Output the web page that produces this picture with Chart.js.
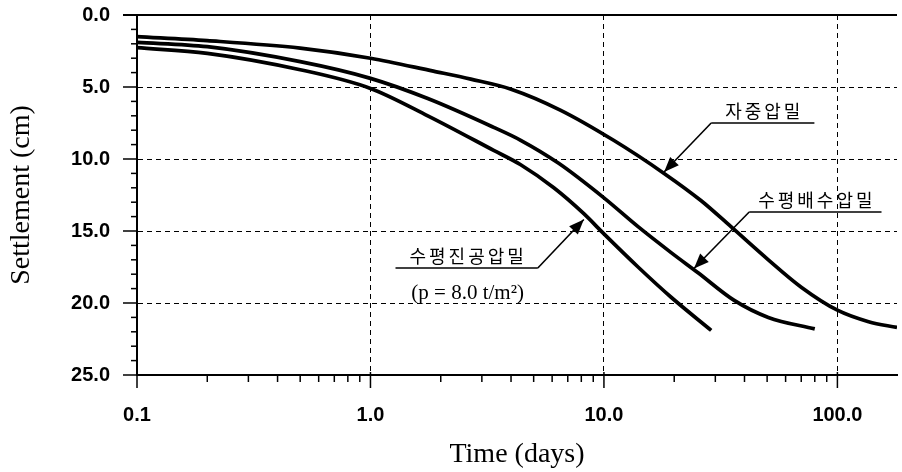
<!DOCTYPE html>
<html>
<head>
<meta charset="utf-8">
<script src="https://cdn.jsdelivr.net/npm/chart.js@4/dist/chart.umd.min.js"></script>
<style>
  html, body { margin: 0; padding: 0; background: #fff; }
  #wrap { width: 902px; height: 472px; }
</style>
</head>
<body>
<div id="wrap"><canvas id="settleChart" width="902" height="472"></canvas></div>
<script>
// axis ticks
const timeTicks = [0.1, 1, 10, 100];
const settleTicks = [0, 5, 10, 15, 20, 25];
const timeMax = 180;

// 자중압밀 (self-weight)
const timeSelf = [0.1, 0.2, 0.5, 1, 1.86, 2.69, 4.0, 6.5, 11, 18.1, 26.1, 35, 50.6, 70, 100, 136, 180];
const settleSelf = [1.5, 1.78, 2.3, 3.0, 3.9, 4.45, 5.15, 6.6, 8.7, 11.0, 12.9, 14.7, 17.0, 18.9, 20.5, 21.3, 21.7];

// 수평배수압밀 (horizontal drain)
const timeDrain = [0.1, 0.2, 0.5, 1, 1.76, 3.37, 4.4, 6.4, 10, 14, 19.4, 25.3, 36, 50.6, 80];
const settleDrain = [1.9, 2.2, 3.24, 4.4, 5.8, 7.8, 8.7, 10.3, 12.7, 14.7, 16.5, 17.9, 19.8, 21.0, 21.8];

// 수평진공압밀 (horizontal vacuum)
const timeVac = [0.1, 0.2, 0.5, 1, 1.76, 3.37, 4.4, 6.1, 8.2, 10, 14, 19.4, 28.8];
const settleVac = [2.27, 2.66, 3.8, 5.1, 7.0, 9.4, 10.4, 12.0, 13.8, 15.2, 17.5, 19.6, 21.9];

// callouts, anchored in axis units (days, cm)
const notes = [
  { text: '자중압밀', sub: '', t0: 28.8, t1: 79.7, s: 7.5, tipT: 18.1, tipS: 10.9, fromEnd: false },
  { text: '수평배수압밀', sub: '', t0: 41.9, t1: 154.5, s: 13.68, tipT: 24.3, tipS: 17.6, fromEnd: false },
  { text: '수평진공압밀', sub: '(p = 8.0 t/m²)', t0: 1.28, t1: 5.21, s: 17.57, tipT: 8.2, tipS: 14.2, fromEnd: true }
];

const tickFont = { family: "'Liberation Sans', Arial, sans-serif", size: 20, weight: 'bold' };
const titleFont = { family: "'Liberation Serif', 'DejaVu Serif', serif", size: 28, weight: 'normal' };

function toPoints(ts, ss) {
  return ts.map((t, i) => ({ x: t, y: ss[i] }));
}

function curve(label, ts, ss) {
  return {
    label: label,
    data: toPoints(ts, ss),
    borderColor: '#000',
    borderWidth: 3.7,
    pointRadius: 0,
    fill: false,
    cubicInterpolationMode: 'monotone'
  };
}

function isDecade(v) {
  const l = Math.log10(v);
  return Math.abs(l - Math.round(l)) < 1e-6;
}

function noPad(scale) {
  scale.paddingTop = 0;
  scale.paddingBottom = 0;
  scale.paddingLeft = 0;
  scale.paddingRight = 0;
}

function arrow(ctx, x0, y0, x1, y1) {
  ctx.beginPath();
  ctx.moveTo(x0, y0);
  ctx.lineTo(x1, y1);
  ctx.stroke();
  const ang = Math.atan2(y1 - y0, x1 - x0);
  const len = 15, half = 6;
  ctx.beginPath();
  ctx.moveTo(x1, y1);
  ctx.lineTo(x1 - len * Math.cos(ang) + half * Math.sin(ang), y1 - len * Math.sin(ang) - half * Math.cos(ang));
  ctx.lineTo(x1 - len * Math.cos(ang) - half * Math.sin(ang), y1 - len * Math.sin(ang) + half * Math.cos(ang));
  ctx.closePath();
  ctx.fill();
}

const decor = {
  id: 'decor',
  afterDraw(chart) {
    const { ctx, chartArea: a, scales: { x, y } } = chart;
    ctx.save();
    ctx.strokeStyle = '#000';
    ctx.fillStyle = '#000';

    // top frame line
    ctx.lineWidth = 2;
    const yTop = y.getPixelForValue(settleTicks[0]);
    ctx.beginPath();
    ctx.moveTo(a.left - 14, yTop);
    ctx.lineTo(a.right, yTop);
    ctx.stroke();

    // tick marks
    ctx.lineWidth = 1.5;
    y.ticks.forEach(t => {
      const py = y.getPixelForValue(t.value);
      const len = settleTicks.includes(t.value) ? 14 : 6;
      ctx.beginPath();
      ctx.moveTo(a.left - len, py);
      ctx.lineTo(a.left, py);
      ctx.stroke();
    });
    x.ticks.forEach(t => {
      const px = x.getPixelForValue(t.value);
      ctx.beginPath();
      if (t.isMajor) {
        ctx.moveTo(px, a.bottom - 3);
        ctx.lineTo(px, a.bottom + 13);
      } else {
        ctx.moveTo(px, a.bottom);
        ctx.lineTo(px, a.bottom + 7);
      }
      ctx.stroke();
    });

    // callouts
    notes.forEach(n => {
      const xa = x.getPixelForValue(n.t0);
      const xb = x.getPixelForValue(n.t1);
      const yl = y.getPixelForValue(n.s);
      const xt = x.getPixelForValue(n.tipT);
      const yt = y.getPixelForValue(n.tipS);
      ctx.lineWidth = 1.6;
      ctx.beginPath();
      ctx.moveTo(xa, yl);
      ctx.lineTo(xb, yl);
      ctx.stroke();
      if (n.fromEnd) arrow(ctx, xb, yl, xt, yt);
      else arrow(ctx, xa, yl, xt, yt);

      ctx.textAlign = 'center';
      ctx.textBaseline = 'middle';
      ctx.font = "18px 'Noto Sans CJK KR'";
      ctx.letterSpacing = '3px';
      ctx.fillText(n.text, (xa + xb) / 2 + 1.5, yl - 12);
      ctx.letterSpacing = '0px';
      if (n.sub) {
        ctx.font = "21px 'Liberation Serif'";
        ctx.fillText(n.sub, (xa + xb) / 2 + 1, yl + 25);
      }
    });
    ctx.restore();
  }
};

new Chart(document.getElementById('settleChart'), {
  type: 'line',
  data: {
    datasets: [
      curve('자중압밀', timeSelf, settleSelf),
      curve('수평배수압밀', timeDrain, settleDrain),
      curve('수평진공압밀', timeVac, settleVac)
    ]
  },
  options: {
    responsive: false,
    animation: false,
    devicePixelRatio: 1,
    layout: { padding: { top: 15, right: 5, left: 0, bottom: 0 } },
    plugins: { legend: { display: false }, tooltip: { enabled: false } },
    scales: {
      x: {
        type: 'logarithmic',
        min: timeTicks[0],
        max: timeMax,
        afterBuildTicks(scale) {
          const ticks = [];
          timeTicks.forEach(d => {
            for (let k = 1; k < 10; k++) {
              const v = d * k;
              if (v <= timeMax + 1e-9) ticks.push({ value: v, isMajor: k === 1 });
            }
          });
          scale.ticks = ticks;
        },
        afterFit(scale) { scale.height = 97; noPad(scale); },
        ticks: {
          autoSkip: false,
          maxRotation: 0,
          padding: 28,
          color: '#000',
          font: tickFont,
          callback: (v) => isDecade(v) ? v.toFixed(1) : ''
        },
        grid: {
          drawTicks: false,
          lineWidth: 1,
          color: (c) => (c.tick && c.tick.isMajor && c.tick.value > timeTicks[0] * 1.01) ? '#000' : 'rgba(0,0,0,0)'
        },
        border: { display: true, color: '#000', width: 2, dash: [5, 4] },
        title: { display: true, text: 'Time (days)', color: '#000', font: titleFont, padding: { top: 0, bottom: 1 } }
      },
      y: {
        type: 'linear',
        reverse: true,
        min: settleTicks[0],
        max: settleTicks[settleTicks.length - 1],
        afterFit(scale) { scale.width = 137; noPad(scale); },
        ticks: {
          stepSize: 1,
          autoSkip: false,
          padding: 27,
          color: '#000',
          font: tickFont,
          callback: (v) => settleTicks.includes(v) ? v.toFixed(1) : ''
        },
        grid: {
          drawTicks: false,
          lineWidth: 1,
          color: (c) => (c.tick && settleTicks.includes(c.tick.value) && c.tick.value !== settleTicks[0] && c.tick.value !== settleTicks[settleTicks.length - 1]) ? '#000' : 'rgba(0,0,0,0)'
        },
        border: { display: true, color: '#000', width: 2, dash: [5, 4] },
        title: { display: true, text: 'Settlement (cm)', color: '#000', font: titleFont, padding: { top: 5, bottom: 0 } }
      }
    }
  },
  plugins: [decor]
});
</script>
</body>
</html>
